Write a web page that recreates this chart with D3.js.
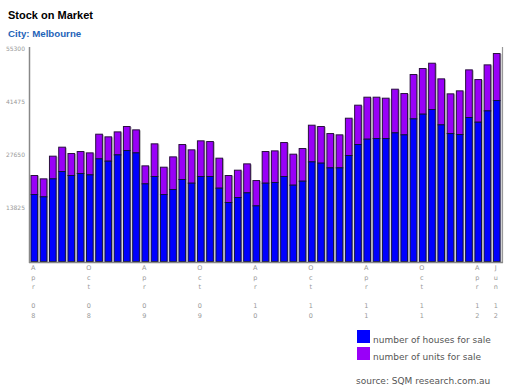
<!DOCTYPE html>
<html><head><meta charset="utf-8">
<script src="https://cdn.jsdelivr.net/npm/d3@7"></script>
<style>
html,body{margin:0;padding:0;background:#fff;}
svg{display:block;}
</style></head>
<body>
<svg id="chart" width="512" height="391"></svg>
<script>
const months = ["Apr 08","May 08","Jun 08","Jul 08","Aug 08","Sep 08","Oct 08","Nov 08","Dec 08","Jan 09","Feb 09","Mar 09",
"Apr 09","May 09","Jun 09","Jul 09","Aug 09","Sep 09","Oct 09","Nov 09","Dec 09","Jan 10","Feb 10","Mar 10",
"Apr 10","May 10","Jun 10","Jul 10","Aug 10","Sep 10","Oct 10","Nov 10","Dec 10","Jan 11","Feb 11","Mar 11",
"Apr 11","May 11","Jun 11","Jul 11","Aug 11","Sep 11","Oct 11","Nov 11","Dec 11","Jan 12","Feb 12","Mar 12",
"Apr 12","May 12","Jun 12"];
const houses = [17560,16960,21640,23550,22510,23030,22680,26840,26240,27880,29010,28400,
20340,22250,17560,18860,21470,20510,22250,22250,19210,15480,16780,18000,
14610,20510,20690,22250,19990,21030,26060,25720,24500,24500,27710,30570,
31960,32130,32130,33610,33090,37250,38470,39680,35690,33430,33170,37600,
36380,39330,42020];
const units = [4950,4680,5900,6330,5720,5720,5720,6420,6330,5980,6250,5990,
4680,8500,7110,8500,9100,8680,9280,9100,7810,7030,7110,7540,
6590,8240,8230,8840,8070,8500,9540,9540,8930,8590,9710,10240,
10930,10760,10500,11360,10750,11540,11880,12050,11970,10330,11370,12400,
11100,11970,12230];
const yTicks = [13825, 27650, 41475, 55300];
const tickMonths = ["Apr 08","Oct 08","Apr 09","Oct 09","Apr 10","Oct 10","Apr 11","Oct 11","Apr 12","Jun 12"];
const seriesNames = ["number of houses for sale","number of units for sale"];
const colors = ["#0000ff","#9900f8"];

const svg = d3.select("#chart");
const x = d3.scaleBand().domain(months).range([30, 501]).paddingInner(0.17).paddingOuter(0.05);
const y = d3.scaleLinear().domain([0, 55300]).range([261.5, 49]);

// title
svg.append("text").attr("x", 8).attr("y", 19).text("Stock on Market")
  .attr("font-family", "Liberation Sans, Arial, sans-serif").attr("font-weight", "bold")
  .attr("font-size", 11).attr("fill", "#000");
svg.append("text").attr("x", 8).attr("y", 37).text("City: Melbourne")
  .attr("font-family", "Liberation Sans, Arial, sans-serif").attr("font-weight", "bold")
  .attr("font-size", 9.7).attr("fill", "#1f64b8");

// y labels
svg.append("g").selectAll("text").data(yTicks).join("text")
  .attr("x", 25).attr("y", d => y(d)).attr("dy", "0.35em")
  .attr("text-anchor", "end").attr("font-family", "DejaVu Sans, sans-serif")
  .attr("font-size", 6).attr("fill", "#999").text(d => d);

// bars
const data = months.map((m, i) => ({m, h: houses[i], u: units[i]}));
const bw = x.bandwidth();
const g = svg.append("g");
// shadow
g.selectAll("rect.sh").data(data).join("rect").attr("class", "sh")
  .attr("x", d => x(d.m) + 1).attr("y", d => y(d.h + d.u) + 1)
  .attr("width", bw).attr("height", d => y(0) - y(d.h + d.u))
  .attr("fill", "#bbb");
g.selectAll("rect.u").data(data).join("rect").attr("class", "u")
  .attr("x", d => x(d.m) + 0.5).attr("y", d => y(d.h + d.u) + 0.5)
  .attr("width", bw - 1).attr("height", d => y(d.h) - y(d.h + d.u))
  .attr("fill", colors[1]).attr("stroke", "#2a1040").attr("stroke-width", 1);
g.selectAll("rect.h").data(data).join("rect").attr("class", "h")
  .attr("x", d => x(d.m) + 0.5).attr("y", d => y(d.h) + 0.5)
  .attr("width", bw - 1).attr("height", d => y(0) - y(d.h) - 0.5)
  .attr("fill", colors[0]).attr("stroke", "#101040").attr("stroke-width", 1);

// axes lines
svg.append("line").attr("x1", 29.5).attr("x2", 29.5).attr("y1", 47).attr("y2", 263)
  .attr("stroke", "#888").attr("stroke-width", 1.5);
svg.append("line").attr("x1", 502.5).attr("x2", 502.5).attr("y1", 47).attr("y2", 263)
  .attr("stroke", "#999").attr("stroke-width", 1.2);
svg.append("line").attr("x1", 29).attr("x2", 503).attr("y1", 262.5).attr("y2", 262.5)
  .attr("stroke", "#888").attr("stroke-width", 1.5);

// x labels (stacked characters)
const xl = svg.append("g").selectAll("text").data(tickMonths).join("text")
  .attr("font-family", "DejaVu Sans, sans-serif").attr("font-size", 6.5)
  .attr("fill", "#999").attr("text-anchor", "middle");
xl.each(function(d) {
  const cx = x(d) + bw / 2 - 1;
  const t = d3.select(this);
  d.split("").forEach((ch, k) => {
    if (ch === " ") return;
    t.append("tspan").attr("x", cx).attr("y", 270 + k * 9.6).text(ch);
  });
});

// legend
const lg = svg.append("g");
seriesNames.forEach((s, i) => {
  lg.append("rect").attr("x", 357).attr("y", 330 + i * 17).attr("width", 13).attr("height", 13)
    .attr("fill", colors[i]);
  lg.append("text").attr("x", 373).attr("y", 343 + i * 17).text(s)
    .attr("font-family", "DejaVu Sans, Verdana, sans-serif").attr("font-size", 9)
    .attr("fill", "#555");
});
svg.append("text").attr("x", 356).attr("y", 384).text("source: SQM research.com.au")
  .attr("font-family", "DejaVu Sans, Verdana, sans-serif").attr("font-size", 9)
  .attr("fill", "#555");
</script>
</body></html>
